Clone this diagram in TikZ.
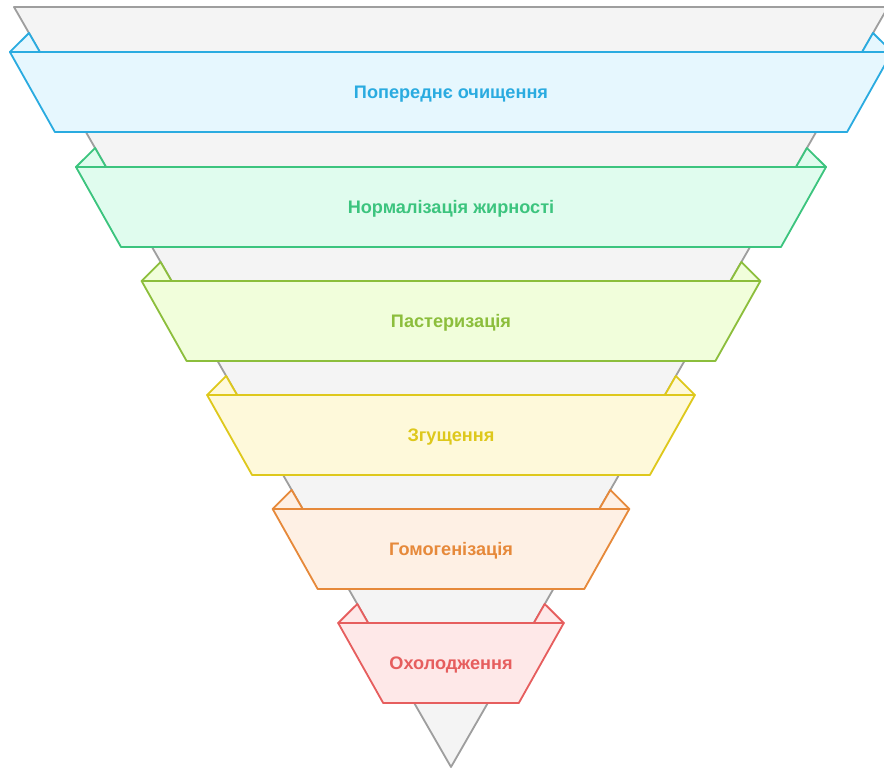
\documentclass[tikz,border=0pt]{standalone}
\usepackage{fontspec}
\setmainfont{Liberation Sans}

\definecolor{funnelline}{HTML}{9E9E9E}
\definecolor{funnelfill}{HTML}{F4F4F4}
\definecolor{blueline}{HTML}{2AABE0}
\definecolor{bluefill}{HTML}{E6F7FE}
\definecolor{greenline}{HTML}{3CC47E}
\definecolor{greenfill}{HTML}{E0FCEE}
\definecolor{limeline}{HTML}{8CBE3C}
\definecolor{limefill}{HTML}{F1FEDB}
\definecolor{yellowline}{HTML}{DEC81C}
\definecolor{yellowfill}{HTML}{FEF9DA}
\definecolor{orangeline}{HTML}{E6893A}
\definecolor{orangefill}{HTML}{FEF0E4}
\definecolor{redline}{HTML}{E65E5E}
\definecolor{redfill}{HTML}{FEE8E8}

\begin{document}
\begin{tikzpicture}[
    x=0.025cm, y=-0.025cm,
    funnel/.style={draw=funnelline, fill=funnelfill, line width=1.3pt, line join=round},
    band/.style={line width=1.3pt, line join=round},
    stage/.style={font=\bfseries\fontsize{12.9}{15}\selectfont}
]
\useasboundingbox (0,0) rectangle (884,769);

% Funnel body
\draw[funnel] (14,7) -- (888,7) -- (451,767) -- cycle;

% Stage 1
\draw[band, draw=blueline, fill=bluefill] (9.9,52) -- (29,33) -- (39.9,52) -- cycle;
\draw[band, draw=blueline, fill=bluefill] (892.1,52) -- (873,33) -- (862.1,52) -- cycle;
\draw[band, draw=blueline, fill=bluefill] (9.9,52) -- (892.1,52) -- (847.1,132) -- (54.9,132) -- cycle;
\node[stage, text=blueline] (s1) at (451,94) {Попереднє очищення};

% Stage 2
\draw[band, draw=greenline, fill=greenfill] (76,167) -- (95.1,148) -- (106,167) -- cycle;
\draw[band, draw=greenline, fill=greenfill] (826,167) -- (806.9,148) -- (796,167) -- cycle;
\draw[band, draw=greenline, fill=greenfill] (76,167) -- (826,167) -- (781,247) -- (121,247) -- cycle;
\node[stage, text=greenline] (s2) at (451,209) {Нормалізація жирності};

% Stage 3
\draw[band, draw=limeline, fill=limefill] (141.6,281) -- (160.6,262) -- (171.6,281) -- cycle;
\draw[band, draw=limeline, fill=limefill] (760.4,281) -- (741.4,262) -- (730.4,281) -- cycle;
\draw[band, draw=limeline, fill=limefill] (141.6,281) -- (760.4,281) -- (715.4,361) -- (186.6,361) -- cycle;
\node[stage, text=limeline] (s3) at (451,323) {Пастеризація};

% Stage 4
\draw[band, draw=yellowline, fill=yellowfill] (207.1,395) -- (226.2,376) -- (237.1,395) -- cycle;
\draw[band, draw=yellowline, fill=yellowfill] (694.9,395) -- (675.8,376) -- (664.9,395) -- cycle;
\draw[band, draw=yellowline, fill=yellowfill] (207.1,395) -- (694.9,395) -- (649.9,475) -- (252.1,475) -- cycle;
\node[stage, text=yellowline] (s4) at (451,437) {Згущення};

% Stage 5
\draw[band, draw=orangeline, fill=orangefill] (272.7,509) -- (291.7,490) -- (302.7,509) -- cycle;
\draw[band, draw=orangeline, fill=orangefill] (629.3,509) -- (610.3,490) -- (599.3,509) -- cycle;
\draw[band, draw=orangeline, fill=orangefill] (272.7,509) -- (629.3,509) -- (584.3,589) -- (317.7,589) -- cycle;
\node[stage, text=orangeline] (s5) at (451,551) {Гомогенізація};

% Stage 6
\draw[band, draw=redline, fill=redfill] (338.2,623) -- (357.3,604) -- (368.2,623) -- cycle;
\draw[band, draw=redline, fill=redfill] (563.8,623) -- (544.7,604) -- (533.8,623) -- cycle;
\draw[band, draw=redline, fill=redfill] (338.2,623) -- (563.8,623) -- (518.8,703) -- (383.2,703) -- cycle;
\node[stage, text=redline] (s6) at (451,665) {Охолодження};

\end{tikzpicture}
\end{document}
